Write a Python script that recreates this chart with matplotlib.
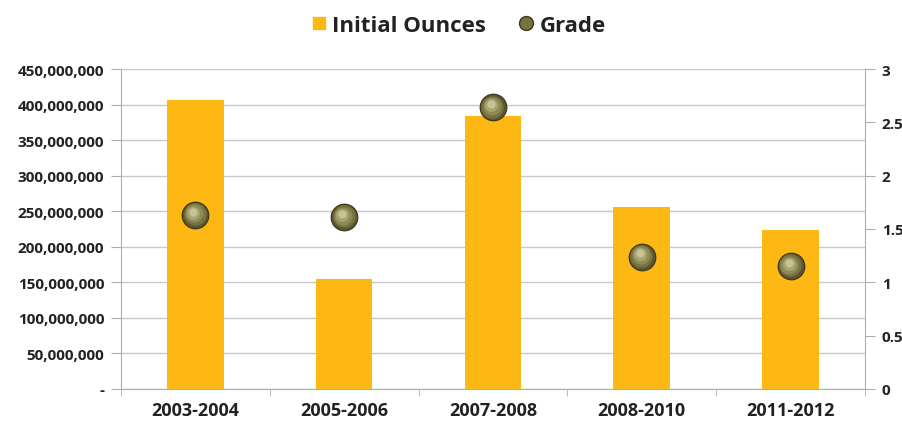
import numpy as np
import matplotlib.pyplot as plt
from matplotlib.lines import Line2D
from matplotlib.ticker import FuncFormatter, FixedLocator

periods = ['2003-2004', '2005-2006', '2007-2008', '2008-2010', '2011-2012']
ounces = [406_000_000, 154_000_000, 384_000_000, 256_000_000, 223_000_000]
grade = [1.63, 1.61, 2.64, 1.24, 1.15]

plt.rcParams['font.family'] = ['Open Sans', 'DejaVu Sans']
plt.rcParams['font.weight'] = 'bold'

fig = plt.figure(figsize=(9.02, 4.27), dpi=100)
ax = fig.add_axes([0.134, 0.087, 0.825, 0.749])
x = np.arange(len(periods))

ax.bar(x, ounces, width=0.38, color='#FDB813', zorder=2)
ax.set_xlim(-0.5, len(periods) - 0.5)
ax.set_ylim(0, 450_000_000)
ax.set_yticks(np.arange(0, 450_000_001, 50_000_000))
ax.yaxis.set_major_formatter(FuncFormatter(lambda v, p: '-' if v == 0 else f'{int(v):,}'))
ax.grid(axis='y', color='#c8c8c8', linewidth=1, zorder=0)
ax.set_xticks(x)
ax.set_xticklabels(periods, fontsize=13, fontweight='bold', color='#222222')
ax.xaxis.set_minor_locator(FixedLocator(np.arange(-0.5, len(periods), 1.0)))
ax.tick_params(axis='x', which='minor', length=5, color='#b9aaaa')
ax.tick_params(axis='y', labelsize=11, colors='#222222', length=7, color='#b9aaaa', pad=5)
ax.tick_params(axis='x', which='major', length=0, pad=9)
for s in ['top', 'right']:
    ax.spines[s].set_visible(False)
ax.spines['left'].set_color('#b9aaaa')
ax.spines['bottom'].set_color('#b9aaaa')

ax2 = ax.twinx()
ax2.set_ylim(0, 3)
ax2.set_yticks([0, 0.5, 1, 1.5, 2, 2.5, 3])
ax2.set_yticklabels(['0', '0.5', '1', '1.5', '2', '2.5', '3'])
ax2.tick_params(axis='y', labelsize=11, colors='#222222', length=7, color='#b9aaaa', pad=5)
for s in ['top', 'left', 'bottom']:
    ax2.spines[s].set_visible(False)
ax2.spines['right'].set_color('#b9aaaa')

# sphere-like markers, stacked shades
shades = [(400, '#3c3818', 0, 0), (340, '#5a5530', 0, 0), (260, '#77723f', -0.004, 0.008),
          (170, '#8f8a55', -0.008, 0.016), (90, '#a8a46f', -0.012, 0.024), (35, '#c6c394', -0.014, 0.03)]
for size, col, dx, dy in shades:
    ax2.scatter(x + dx, [g + dy for g in grade], s=size, color=col, linewidths=0, zorder=5)

handles = [
    Line2D([], [], marker='s', linestyle='none', markersize=8, color='#FDB813'),
    Line2D([], [], marker='o', linestyle='none', markersize=10, markerfacecolor='#77723f',
           markeredgecolor='#3c3818'),
]
fig.legend(handles, ['Initial Ounces', 'Grade'], loc='upper center', bbox_to_anchor=(0.505, 1.01),
           ncol=2, frameon=False, prop={'size': 16, 'weight': 'bold'}, handletextpad=0.0,
           handlelength=1.2, columnspacing=1.2, labelcolor='#222222')

fig.savefig('out.png', dpi=100)
